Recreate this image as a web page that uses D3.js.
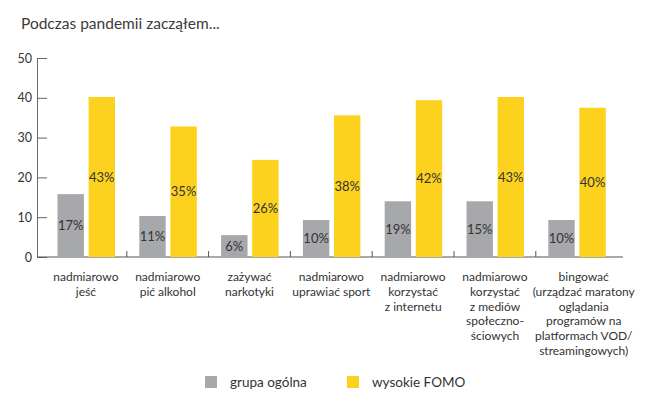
<!DOCTYPE html>
<html>
<head>
<meta charset="utf-8">
<script src="https://cdn.jsdelivr.net/npm/d3@7"></script>
<style>
  body { margin: 0; background: #fff; }
  svg { font-family: Lato, sans-serif; }
</style>
</head>
<body>
<svg id="chart" width="655" height="396"></svg>
<script>
const categories = [
  ["nadmiarowo", "jeść"],
  ["nadmiarowo", "pić alkohol"],
  ["zażywać", "narkotyki"],
  ["nadmiarowo", "uprawiać sport"],
  ["nadmiarowo", "korzystać", "z internetu"],
  ["nadmiarowo", "korzystać", "z mediów", "społeczno-", "ściowych"],
  ["bingować", "(urządzać maratony", "oglądania", "programów na", "platformach VOD/", "streamingowych)"]
];
const seriesNames = ["grupa ogólna", "wysokie FOMO"];
const generalValues = [15.8, 10.3, 5.5, 9.3, 14.0, 14.0, 9.3];
const fomoValues = [40.2, 32.8, 24.4, 35.6, 39.4, 40.2, 37.5];
const generalLabels = ["17%", "11%", "6%", "10%", "19%", "15%", "10%"];
const fomoLabels = ["43%", "35%", "26%", "38%", "42%", "43%", "40%"];
const yTicks = [0, 10, 20, 30, 40, 50];
const colors = ["#a7a8ab", "#fdd21e"];

const svg = d3.select("#chart");
const axisX = 37, baseY = 257, topY = 58, bandStart = 45, bandEnd = 617.6, lineEnd = 623;

const y = d3.scaleLinear().domain([0, 50]).range([baseY, topY]);
const x0 = d3.scaleBand().domain(d3.range(categories.length)).range([bandStart, bandEnd]);
const x1 = d3.scaleBand().domain(seriesNames).range([12.5, 70]).paddingInner(0.15);
const color = d3.scaleOrdinal().domain(seriesNames).range(colors);

// title
svg.append("text")
  .attr("x", 21).attr("y", 29)
  .attr("font-size", 15.5).attr("fill", "#3a3a3a")
  .text("Podczas pandemii zacząłem...");

// y axis
const yAxis = svg.append("g")
  .attr("transform", `translate(${axisX},0)`)
  .call(d3.axisLeft(y).tickValues(yTicks).tickSize(-10).tickSizeOuter(0).tickPadding(5));
yAxis.select(".domain").attr("stroke", "#666");
yAxis.selectAll(".tick line").attr("stroke", "#666");
yAxis.selectAll(".tick text").attr("font-size", 12.5).attr("fill", "#333").attr("font-family", "Lato");

// baseline
svg.append("line")
  .attr("x1", axisX).attr("x2", lineEnd)
  .attr("y1", y(0)).attr("y2", y(0))
  .attr("stroke", "#555").attr("stroke-width", 1.2);

// separators
svg.append("g").selectAll("line")
  .data(d3.range(1, categories.length))
  .join("line")
  .attr("x1", (i) => x0(i)).attr("x2", (i) => x0(i))
  .attr("y1", y(0) - 6).attr("y2", y(0))
  .attr("stroke", "#555");

// bars
const rows = categories.map((c, i) => [
  { s: seriesNames[0], v: generalValues[i], l: generalLabels[i] },
  { s: seriesNames[1], v: fomoValues[i], l: fomoLabels[i] }
]);

const groups = svg.append("g").selectAll("g")
  .data(rows)
  .join("g")
  .attr("transform", (d, i) => `translate(${x0(i)},0)`);

groups.selectAll("rect")
  .data((d) => d)
  .join("rect")
  .attr("x", (d) => x1(d.s))
  .attr("width", x1.bandwidth())
  .attr("y", (d) => y(d.v))
  .attr("height", (d) => y(0) - y(d.v))
  .attr("fill", (d) => color(d.s));

groups.selectAll("text")
  .data((d) => d)
  .join("text")
  .attr("x", (d) => x1(d.s) + x1.bandwidth() / 2)
  .attr("y", (d) => (y(d.v) + y(0)) / 2)
  .attr("dy", "0.35em")
  .attr("text-anchor", "middle")
  .attr("font-size", 13)
  .attr("fill", "#333")
  .text((d) => d.l);

// category labels (the last, widest one sits a little to the right)
const lastShift = 7;
svg.append("g").selectAll("text")
  .data(categories)
  .join("text")
  .attr("text-anchor", "middle")
  .attr("font-size", 12)
  .attr("fill", "#333")
  .attr("transform", (d, i) => {
    const cx = x0(i) + x0.bandwidth() / 2 + (i === categories.length - 1 ? lastShift : 0);
    return `translate(${cx},281)`;
  })
  .selectAll("tspan")
  .data((d) => d)
  .join("tspan")
  .attr("x", 0)
  .attr("y", (d, j) => j * 14.8)
  .text((d) => d);

// legend
const legendX = [205, 347];
const legend = svg.append("g").selectAll("g")
  .data(seriesNames)
  .join("g")
  .attr("transform", (d, i) => `translate(${legendX[i]},376)`);
legend.append("rect")
  .attr("width", 12).attr("height", 12)
  .attr("fill", (d) => color(d));
legend.append("text")
  .attr("x", 25).attr("y", 6).attr("dy", "0.35em")
  .attr("font-size", 13.5).attr("fill", "#333")
  .text((d) => d);
</script>
</body>
</html>
